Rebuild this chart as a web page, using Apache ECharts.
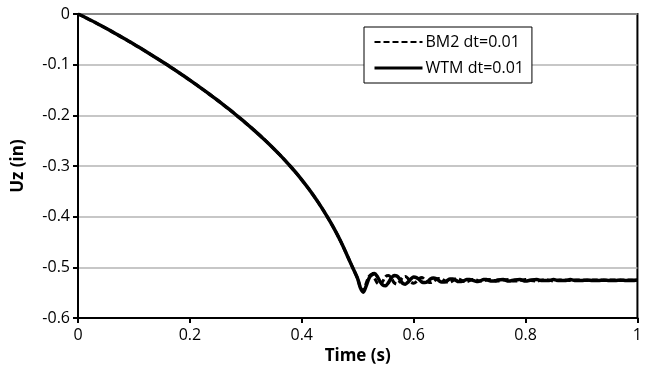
<!DOCTYPE html>
<html>
<head>
<meta charset="utf-8">
<script src="https://cdn.jsdelivr.net/npm/echarts@6/dist/echarts.min.js"></script>
<style>
html,body{margin:0;padding:0;background:#fff;}
#chart{width:645px;height:370px;}
</style>
</head>
<body>
<div id="chart"></div>
<script>
// ---- data ----
var seriesNames = ['BM2 dt=0.01', 'WTM dt=0.01'];
var xTickLabels = ['0', '0.2', '0.4', '0.6', '0.8', '1'];
var yTickLabels = ['-0.6', '-0.5', '-0.4', '-0.3', '-0.2', '-0.1', '0'];

// time (s): 0..0.50 step 0.01
var timeDescent = [0,0.01,0.02,0.03,0.04,0.05,0.06,0.07,0.08,0.09,0.10,0.11,0.12,0.13,0.14,0.15,0.16,0.17,0.18,0.19,0.20,
  0.21,0.22,0.23,0.24,0.25,0.26,0.27,0.28,0.29,0.30,0.31,0.32,0.33,0.34,0.35,0.36,0.37,0.38,0.39,0.40,
  0.41,0.42,0.43,0.44,0.45,0.46,0.47,0.48,0.49,0.50];
// shared descent (both curves overlap)
var uzDescent = [0,-0.0050,-0.0108,-0.0163,-0.0222,-0.0282,-0.0343,-0.0405,-0.0468,-0.0532,-0.0597,-0.0663,-0.0730,-0.0798,-0.0867,-0.0937,-0.1008,-0.1080,-0.1154,-0.1229,-0.1305,
  -0.1383,-0.1462,-0.1542,-0.1624,-0.1707,-0.1792,-0.1879,-0.1968,-0.2059,-0.2152,-0.2247,-0.2345,-0.2446,-0.2550,-0.2658,-0.2770,-0.2887,-0.3009,-0.3137,-0.3272,
  -0.3414,-0.3565,-0.3726,-0.3898,-0.4082,-0.4279,-0.4495,-0.4735,-0.4980,-0.5225];

// oscillation region: 0.505..0.75 step 0.005, then 0.76..1.0 step 0.01
var timeTail = [0.505,0.51,0.515,0.52,0.525,0.53,0.535,0.54,0.545,0.55,0.555,0.56,0.565,0.57,0.575,0.58,0.585,0.59,0.595,0.60,
  0.605,0.61,0.615,0.62,0.625,0.63,0.635,0.64,0.645,0.65,0.655,0.66,0.665,0.67,0.675,0.68,0.685,0.69,0.695,0.70,
  0.705,0.71,0.715,0.72,0.725,0.73,0.735,0.74,0.745,0.75,
  0.76,0.77,0.78,0.79,0.80,0.81,0.82,0.83,0.84,0.85,0.86,0.87,0.88,0.89,0.90,0.91,0.92,0.93,0.94,0.95,0.96,0.97,0.98,0.99,1.00];

var bm2Tail = [-0.540,-0.546,-0.532,-0.518,-0.514,-0.521,-0.531,-0.534,-0.527,-0.518,-0.516,-0.521,-0.530,-0.533,-0.528,-0.520,-0.518,-0.522,-0.529,-0.531,
  -0.528,-0.522,-0.520,-0.524,-0.528,-0.530,-0.528,-0.524,-0.522,-0.523,-0.526,-0.529,-0.529,-0.526,-0.523,-0.523,-0.525,-0.528,-0.528,-0.526,
  -0.524,-0.524,-0.526,-0.527,-0.527,-0.525,-0.524,-0.525,-0.526,-0.527,
  -0.525,-0.524,-0.527,-0.526,-0.524,-0.526,-0.527,-0.525,-0.525,-0.527,-0.525,-0.525,-0.526,-0.525,-0.525,-0.526,-0.525,-0.525,-0.526,-0.525,-0.525,-0.526,-0.525,-0.525,-0.526];

var wtmTail = [-0.541,-0.549,-0.537,-0.522,-0.514,-0.512,-0.518,-0.528,-0.535,-0.536,-0.530,-0.521,-0.516,-0.517,-0.523,-0.531,-0.533,-0.529,-0.523,-0.519,
  -0.520,-0.524,-0.529,-0.530,-0.528,-0.523,-0.521,-0.522,-0.526,-0.529,-0.529,-0.526,-0.523,-0.523,-0.525,-0.528,-0.528,-0.526,-0.524,-0.524,
  -0.525,-0.527,-0.528,-0.526,-0.524,-0.524,-0.526,-0.527,-0.527,-0.525,
  -0.524,-0.527,-0.525,-0.524,-0.527,-0.525,-0.524,-0.526,-0.526,-0.524,-0.526,-0.526,-0.524,-0.526,-0.526,-0.525,-0.526,-0.526,-0.525,-0.526,-0.526,-0.525,-0.526,-0.526,-0.525];

// ---- build ----
var time = timeDescent.concat(timeTail);
var bm2 = uzDescent.concat(bm2Tail);
var wtm = uzDescent.concat(wtmTail);
function pairs(xs, ys){ return xs.map(function(x,i){ return [x, ys[i]]; }); }
function lookup(labels, v){
  for (var i=0;i<labels.length;i++){ if (Math.abs(parseFloat(labels[i]) - v) < 1e-6) return labels[i]; }
  return '';
}

var FONT = '"Open Sans", "Noto Sans", sans-serif';
var chart = echarts.init(document.getElementById('chart'), null, {renderer:'canvas'});
chart.setOption({
  animation: false,
  backgroundColor: '#fff',
  grid: { left: 78, right: 7, top: 14, bottom: 51, show: true, borderColor: '#000', borderWidth: 2, backgroundColor: 'transparent' },
  legend: {
    orient: 'vertical', left: 364, top: 27,
    padding: [7, 8, 7, 9], itemGap: 10, itemWidth: 48, itemHeight: 14,
    borderColor: '#000', borderWidth: 1, backgroundColor: '#fff',
    itemStyle: { opacity: 0 },
    textStyle: { fontFamily: FONT, fontSize: 16, color: '#000', padding: [0,0,0,-2] },
    data: [
      { name: seriesNames[0], lineStyle: { width: 2, type: [6, 3] } },
      { name: seriesNames[1], lineStyle: { width: 3 } }
    ]
  },
  xAxis: {
    type: 'value', min: 0, max: 1, interval: 0.2,
    name: 'Time (s)', nameLocation: 'middle', nameGap: 28,
    nameTextStyle: { fontFamily: FONT, fontSize: 17, fontWeight: 'bold', color: '#000' },
    axisLine: { show: true, onZero: false, lineStyle: { color: '#000', width: 2 } },
    axisTick: { show: true, length: 5, lineStyle: { color: '#000', width: 2 } },
    axisLabel: { fontFamily: FONT, fontSize: 16, color: '#000', margin: 9, formatter: function(v){ return lookup(xTickLabels, v); } },
    splitLine: { show: false }
  },
  yAxis: {
    type: 'value', min: -0.6, max: 0, interval: 0.1,
    name: 'Uz (in)', nameLocation: 'middle', nameGap: 51, nameRotate: 90,
    nameTextStyle: { fontFamily: FONT, fontSize: 17, fontWeight: 'bold', color: '#000' },
    axisLine: { show: true, onZero: false, lineStyle: { color: '#000', width: 2 } },
    axisTick: { show: true, length: 5, lineStyle: { color: '#000', width: 2 } },
    axisLabel: { fontFamily: FONT, fontSize: 16, color: '#000', margin: 8, formatter: function(v){ return lookup(yTickLabels, v); } },
    splitLine: { show: true, lineStyle: { color: '#b4b4b4', width: 1.5 } }
  },
  series: [
    { name: seriesNames[0], type: 'line', data: pairs(time, bm2), symbol: 'none', smooth: 0.3,
      lineStyle: { color: '#000', width: 3, type: [6, 3], join: 'round' }, itemStyle: { color: '#000' }, z: 2 },
    { name: seriesNames[1], type: 'line', data: pairs(time, wtm), symbol: 'none', smooth: 0.3,
      lineStyle: { color: '#000', width: 3.5, join: 'round' }, itemStyle: { color: '#000' }, z: 3 }
  ]
});
</script>
</body>
</html>
